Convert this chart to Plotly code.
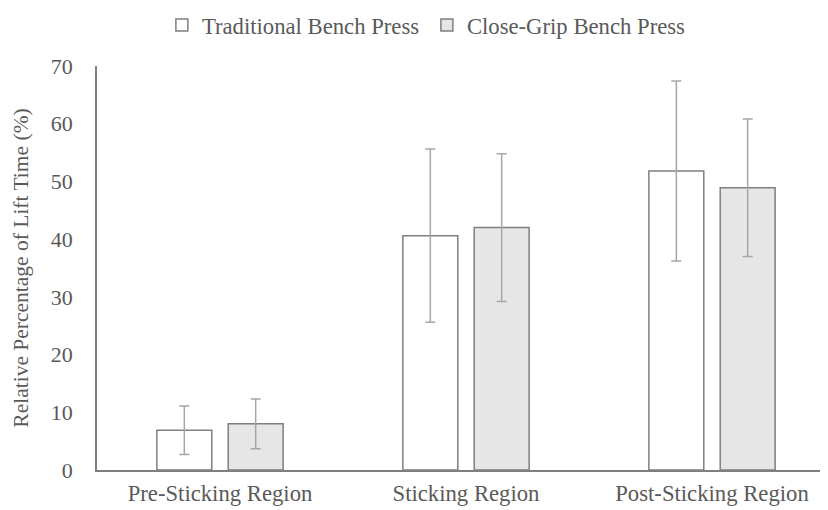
import plotly.graph_objects as go

categories = ["Pre-Sticking Region", "Sticking Region", "Post-Sticking Region"]
traditional = [6.9, 40.6, 51.8]
traditional_sd = [4.2, 15.0, 15.6]
close_grip = [8.0, 42.0, 48.9]
close_grip_sd = [4.3, 12.8, 11.9]
y_ticks = [0, 10, 20, 30, 40, 50, 60, 70]

FONT = "Liberation Serif"
TXT = "#595959"

fig = go.Figure()
fig.add_trace(go.Bar(
    name="Traditional Bench Press", x=categories, y=traditional,
    marker=dict(color="#ffffff", line=dict(color="#7f7f7f", width=1.5)),
    error_y=dict(type="data", array=traditional_sd, color="#a6a6a6", thickness=1.5, width=5),
))
fig.add_trace(go.Bar(
    name="Close-Grip Bench Press", x=categories, y=close_grip,
    marker=dict(color="#e6e6e6", line=dict(color="#7f7f7f", width=1.5)),
    error_y=dict(type="data", array=close_grip_sd, color="#a6a6a6", thickness=1.5, width=5),
))

fig.update_layout(
    width=828, height=510,
    margin=dict(l=89, r=1, t=58, b=48, autoexpand=False),
    paper_bgcolor="white", plot_bgcolor="white",
    barmode="group", bargap=0.42, bargroupgap=0.23,
    font=dict(family=FONT, size=22.7, color=TXT),
    legend=dict(orientation="h", x=0.447, xanchor="center", y=1.101, yanchor="middle",
                font=dict(size=22.7, color=TXT), itemwidth=30, traceorder="normal",
                entrywidth=220),
    showlegend=True,
)
fig.update_xaxes(
    range=[-0.5, 2.5], showline=True, linecolor="#7f7f7f", linewidth=1.5,
    ticks="", showgrid=False, tickfont=dict(size=22.7, color=TXT), automargin=False,
    ticklabelstandoff=2,
)
fig.update_yaxes(
    range=[0, 70], tickvals=y_ticks, showline=True, linecolor="#7f7f7f", linewidth=1.5,
    ticks="", showgrid=False, zeroline=False, tickfont=dict(size=22, color=TXT),
    title=dict(text="Relative Percentage of Lift Time (%)", font=dict(size=21.5, color=TXT), standoff=16),
    ticklabelstandoff=18, automargin=False,
)

fig.write_html("out.html")
